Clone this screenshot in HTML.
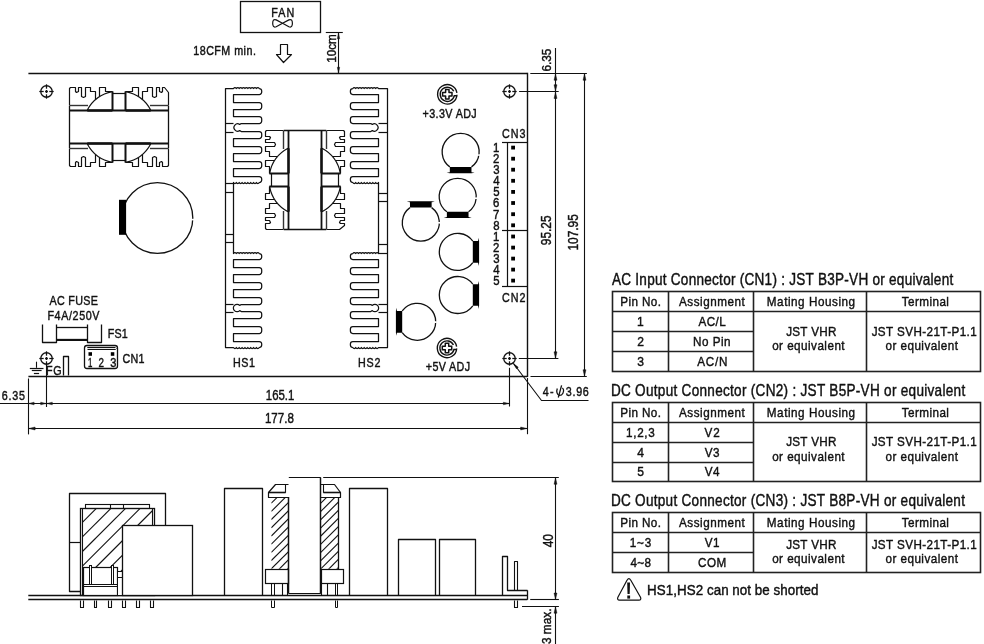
<!DOCTYPE html>
<html><head><meta charset="utf-8"><title>Power Supply Mechanical Drawing</title>
<style>
html,body{margin:0;padding:0;background:#fff;}
body{width:984px;height:644px;overflow:hidden;}
svg{display:block;filter:grayscale(1);}
text{font-family:"Liberation Sans",sans-serif;}
</style></head><body>
<svg width="984" height="644" viewBox="0 0 984 644">
<rect width="984" height="644" fill="#fff"/>
<path d="M225.5,88.5 L233.5,88.5 Q234.93,86.5 236.37,88.5 Q237.8,86.5 239.23,88.5 Q240.67,86.5 242.1,88.5 Q243.53,86.5 244.97,88.5 Q246.4,86.5 247.83,88.5 Q249.27,86.5 250.7,88.5 Q252.13,86.5 253.57,88.5 Q255,86.5 256.43,88.5 Q257.87,86.5 259.3,88.5 A2.4,2.4 0 0 1 261.7,90.9 L261.7,92.1 A2.4,2.4 0 0 1 259.3,94.5 L233.5,94.5 L233.5,102.5 L259.3,102.5 A2.4,2.4 0 0 1 261.7,104.9 L261.7,107.1 A2.4,2.4 0 0 1 259.3,109.5 L233.5,109.5 L233.5,116.5 L259.3,116.5 A2.4,2.4 0 0 1 261.7,118.9 L261.7,121.1 A2.4,2.4 0 0 1 259.3,123.5 L241.3,123.5 L239.7,124.4 A3.7,3.7 0 1 0 239.7,130.6 L241.3,131.5 L259.3,131.5 A2.4,2.4 0 0 1 261.7,133.9 L261.7,136.1 A2.4,2.4 0 0 1 259.3,138.5 L233.5,138.5 L233.5,146.5 L259.3,146.5 A2.4,2.4 0 0 1 261.7,148.9 L261.7,151.1 A2.4,2.4 0 0 1 259.3,153.5 L233.5,153.5 L233.5,161.5 L259.3,161.5 A2.4,2.4 0 0 1 261.7,163.9 L261.7,166.1 A2.4,2.4 0 0 1 259.3,168.5 L233.5,168.5 L233.5,176.5 L259.3,176.5 A2.4,2.4 0 0 1 261.7,178.9 L261.7,180.1 A2.4,2.4 0 0 1 259.3,182.5 Q257.87,184.5 256.43,182.5 Q255,184.5 253.57,182.5 Q252.13,184.5 250.7,182.5 Q249.27,184.5 247.83,182.5 Q246.4,184.5 244.97,182.5 Q243.53,184.5 242.1,182.5 Q240.67,184.5 239.23,182.5 Q237.8,184.5 236.37,182.5 Q234.93,184.5 233.5,182.5 L233.5,182.5 L233.5,253.5 L233.5,253.5 Q234.93,251.5 236.37,253.5 Q237.8,251.5 239.23,253.5 Q240.67,251.5 242.1,253.5 Q243.53,251.5 244.97,253.5 Q246.4,251.5 247.83,253.5 Q249.27,251.5 250.7,253.5 Q252.13,251.5 253.57,253.5 Q255,251.5 256.43,253.5 Q257.87,251.5 259.3,253.5 A2.4,2.4 0 0 1 261.7,255.9 L261.7,257.1 A2.4,2.4 0 0 1 259.3,259.5 L233.5,259.5 L233.5,267.5 L259.3,267.5 A2.4,2.4 0 0 1 261.7,269.9 L261.7,272.1 A2.4,2.4 0 0 1 259.3,274.5 L233.5,274.5 L233.5,282.5 L259.3,282.5 A2.4,2.4 0 0 1 261.7,284.9 L261.7,287.1 A2.4,2.4 0 0 1 259.3,289.5 L233.5,289.5 L233.5,297.5 L259.3,297.5 A2.4,2.4 0 0 1 261.7,299.9 L261.7,302.1 A2.4,2.4 0 0 1 259.3,304.5 L241.3,304.5 L239.7,305.4 A3.7,3.7 0 1 0 239.7,310.6 L241.3,311.5 L259.3,311.5 A2.4,2.4 0 0 1 261.7,313.9 L261.7,316.1 A2.4,2.4 0 0 1 259.3,318.5 L233.5,318.5 L233.5,326.5 L259.3,326.5 A2.4,2.4 0 0 1 261.7,328.9 L261.7,331.1 A2.4,2.4 0 0 1 259.3,333.5 L233.5,333.5 L233.5,341.5 L259.3,341.5 A2.4,2.4 0 0 1 261.7,343.9 L261.7,345.1 A2.4,2.4 0 0 1 259.3,347.5 Q257.87,349.5 256.43,347.5 Q255,349.5 253.57,347.5 Q252.13,349.5 250.7,347.5 Q249.27,349.5 247.83,347.5 Q246.4,349.5 244.97,347.5 Q243.53,349.5 242.1,347.5 Q240.67,349.5 239.23,347.5 Q237.8,349.5 236.37,347.5 Q234.93,349.5 233.5,347.5 L225.5,347.5 Z" fill="none" stroke="#111" stroke-width="1.25" stroke-linejoin="round" />
<line x1="225.5" y1="183.5" x2="233.5" y2="183.5" stroke="#111" stroke-width="1.2"/>
<line x1="225.5" y1="192.5" x2="233.5" y2="192.5" stroke="#111" stroke-width="1.2"/>
<line x1="225.5" y1="234.5" x2="233.5" y2="234.5" stroke="#111" stroke-width="1.2"/>
<line x1="225.5" y1="242.5" x2="233.5" y2="242.5" stroke="#111" stroke-width="1.2"/>
<line x1="225.5" y1="123.5" x2="233.5" y2="123.5" stroke="#111" stroke-width="1.2"/>
<line x1="225.5" y1="132.5" x2="233.5" y2="132.5" stroke="#111" stroke-width="1.2"/>
<line x1="225.5" y1="304.5" x2="233.5" y2="304.5" stroke="#111" stroke-width="1.2"/>
<line x1="225.5" y1="312.5" x2="233.5" y2="312.5" stroke="#111" stroke-width="1.2"/>
<path d="M387.5,88.5 L378.5,88.5 Q377.07,86.5 375.64,88.5 Q374.22,86.5 372.79,88.5 Q371.36,86.5 369.93,88.5 Q368.51,86.5 367.08,88.5 Q365.65,86.5 364.22,88.5 Q362.79,86.5 361.37,88.5 Q359.94,86.5 358.51,88.5 Q357.08,86.5 355.66,88.5 Q354.23,86.5 352.8,88.5 A2.4,2.4 0 0 0 350.4,90.9 L350.4,92.1 A2.4,2.4 0 0 0 352.8,94.5 L378.5,94.5 L378.5,102.5 L352.8,102.5 A2.4,2.4 0 0 0 350.4,104.9 L350.4,107.1 A2.4,2.4 0 0 0 352.8,109.5 L378.5,109.5 L378.5,116.5 L352.8,116.5 A2.4,2.4 0 0 0 350.4,118.9 L350.4,121.1 A2.4,2.4 0 0 0 352.8,123.5 L370.7,123.5 L372.3,124.4 A3.7,3.7 0 1 1 372.3,130.6 L370.7,131.5 L352.8,131.5 A2.4,2.4 0 0 0 350.4,133.9 L350.4,136.1 A2.4,2.4 0 0 0 352.8,138.5 L378.5,138.5 L378.5,146.5 L352.8,146.5 A2.4,2.4 0 0 0 350.4,148.9 L350.4,151.1 A2.4,2.4 0 0 0 352.8,153.5 L378.5,153.5 L378.5,161.5 L352.8,161.5 A2.4,2.4 0 0 0 350.4,163.9 L350.4,166.1 A2.4,2.4 0 0 0 352.8,168.5 L378.5,168.5 L378.5,176.5 L352.8,176.5 A2.4,2.4 0 0 0 350.4,178.9 L350.4,180.1 A2.4,2.4 0 0 0 352.8,182.5 Q354.23,184.5 355.66,182.5 Q357.08,184.5 358.51,182.5 Q359.94,184.5 361.37,182.5 Q362.79,184.5 364.22,182.5 Q365.65,184.5 367.08,182.5 Q368.51,184.5 369.93,182.5 Q371.36,184.5 372.79,182.5 Q374.22,184.5 375.64,182.5 Q377.07,184.5 378.5,182.5 L378.5,182.5 L378.5,253.5 L378.5,253.5 Q377.07,251.5 375.64,253.5 Q374.22,251.5 372.79,253.5 Q371.36,251.5 369.93,253.5 Q368.51,251.5 367.08,253.5 Q365.65,251.5 364.22,253.5 Q362.79,251.5 361.37,253.5 Q359.94,251.5 358.51,253.5 Q357.08,251.5 355.66,253.5 Q354.23,251.5 352.8,253.5 A2.4,2.4 0 0 0 350.4,255.9 L350.4,257.1 A2.4,2.4 0 0 0 352.8,259.5 L378.5,259.5 L378.5,267.5 L352.8,267.5 A2.4,2.4 0 0 0 350.4,269.9 L350.4,272.1 A2.4,2.4 0 0 0 352.8,274.5 L378.5,274.5 L378.5,282.5 L352.8,282.5 A2.4,2.4 0 0 0 350.4,284.9 L350.4,287.1 A2.4,2.4 0 0 0 352.8,289.5 L378.5,289.5 L378.5,297.5 L352.8,297.5 A2.4,2.4 0 0 0 350.4,299.9 L350.4,302.1 A2.4,2.4 0 0 0 352.8,304.5 L370.7,304.5 L372.3,305.4 A3.7,3.7 0 1 1 372.3,310.6 L370.7,311.5 L352.8,311.5 A2.4,2.4 0 0 0 350.4,313.9 L350.4,316.1 A2.4,2.4 0 0 0 352.8,318.5 L378.5,318.5 L378.5,326.5 L352.8,326.5 A2.4,2.4 0 0 0 350.4,328.9 L350.4,331.1 A2.4,2.4 0 0 0 352.8,333.5 L378.5,333.5 L378.5,341.5 L352.8,341.5 A2.4,2.4 0 0 0 350.4,343.9 L350.4,345.1 A2.4,2.4 0 0 0 352.8,347.5 Q354.23,349.5 355.66,347.5 Q357.08,349.5 358.51,347.5 Q359.94,349.5 361.37,347.5 Q362.79,349.5 364.22,347.5 Q365.65,349.5 367.08,347.5 Q368.51,349.5 369.93,347.5 Q371.36,349.5 372.79,347.5 Q374.22,349.5 375.64,347.5 Q377.07,349.5 378.5,347.5 L387.5,347.5 Z" fill="none" stroke="#111" stroke-width="1.25" stroke-linejoin="round" />
<line x1="387.5" y1="193.5" x2="378.5" y2="193.5" stroke="#111" stroke-width="1.2"/>
<line x1="387.5" y1="201.5" x2="378.5" y2="201.5" stroke="#111" stroke-width="1.2"/>
<line x1="387.5" y1="244.5" x2="378.5" y2="244.5" stroke="#111" stroke-width="1.2"/>
<line x1="387.5" y1="253.5" x2="378.5" y2="253.5" stroke="#111" stroke-width="1.2"/>
<line x1="387.5" y1="123.5" x2="378.5" y2="123.5" stroke="#111" stroke-width="1.2"/>
<line x1="387.5" y1="132.5" x2="378.5" y2="132.5" stroke="#111" stroke-width="1.2"/>
<line x1="387.5" y1="304.5" x2="378.5" y2="304.5" stroke="#111" stroke-width="1.2"/>
<line x1="387.5" y1="312.5" x2="378.5" y2="312.5" stroke="#111" stroke-width="1.2"/>
<g transform="translate(119,127)">
<g transform="scale(1,1)">
<path d="M-49.5,-21.5 L-49.5,-38.5 L-48.5,-39.5 L-44.5,-39.5 L-43.5,-39.5 L-43.5,-35.5 L-42.5,-34.5 L-40.5,-35.5 L-40.5,-39.5 L-37.5,-39.5 L-37.5,-39.5 L-37.5,-30.5 L-35.5,-29.5 L-33.5,-30.5 L-33.5,-39.5 L-28.5,-39.5 L-28.5,-35.5 L-23.5,-35.5 L-23.5,-27.5" fill="none" stroke="#111" stroke-width="1.2" stroke-linejoin="round"/>
<path d="M-19.5,-30.5 L-19.5,-39.5 L-13.5,-39.5 L-13.5,-35.5 L-6.5,-35.5" fill="none" stroke="#111" stroke-width="1.2" stroke-linejoin="round"/>
<path d="M-31.7,-17 A36,36 0 0 1 -6.6,-35.39" fill="none" stroke="#111" stroke-width="1.2" stroke-linejoin="round" />
<line x1="-6.5" y1="-35.6" x2="-6.5" y2="-17" stroke="#111" stroke-width="2.0"/>
<line x1="-6.6" y1="-33.5" x2="0" y2="-33.5" stroke="#111" stroke-width="1.2"/>
<line x1="-49.4" y1="-21.5" x2="-31" y2="-21.5" stroke="#333" stroke-width="1.4"/>
<line x1="-49.4" y1="-16.5" x2="0" y2="-16.5" stroke="#111" stroke-width="1.8"/>
<line x1="-31.7" y1="-16.5" x2="-6.6" y2="-16.5" stroke="#111" stroke-width="2.4"/>
</g>
<g transform="scale(-1,1)">
<path d="M-49.5,-21.5 L-49.5,-34.5 L-45.5,-39.5 L-43.5,-39.5 L-43.5,-35.5 L-42.5,-34.5 L-40.5,-35.5 L-40.5,-39.5 L-37.5,-39.5 L-37.5,-39.5 L-37.5,-30.5 L-35.5,-29.5 L-33.5,-30.5 L-33.5,-39.5 L-28.5,-39.5 L-28.5,-35.5 L-23.5,-35.5 L-23.5,-27.5" fill="none" stroke="#111" stroke-width="1.2" stroke-linejoin="round"/>
<path d="M-19.5,-30.5 L-19.5,-39.5 L-13.5,-39.5 L-13.5,-35.5 L-6.5,-35.5" fill="none" stroke="#111" stroke-width="1.2" stroke-linejoin="round"/>
<path d="M-31.7,-17 A36,36 0 0 1 -6.6,-35.39" fill="none" stroke="#111" stroke-width="1.2" stroke-linejoin="round" />
<line x1="-6.5" y1="-35.6" x2="-6.5" y2="-17" stroke="#111" stroke-width="2.0"/>
<line x1="-6.6" y1="-33.5" x2="0" y2="-33.5" stroke="#111" stroke-width="1.2"/>
<line x1="-49.4" y1="-21.5" x2="-31" y2="-21.5" stroke="#333" stroke-width="1.4"/>
<line x1="-49.4" y1="-16.5" x2="0" y2="-16.5" stroke="#111" stroke-width="1.8"/>
<line x1="-31.7" y1="-16.5" x2="-6.6" y2="-16.5" stroke="#111" stroke-width="2.4"/>
</g>
<g transform="scale(1,-1)">
<path d="M-49.5,-21.5 L-49.5,-38.5 L-48.5,-39.5 L-44.5,-39.5 L-43.5,-39.5 L-43.5,-35.5 L-42.5,-34.5 L-40.5,-35.5 L-40.5,-39.5 L-37.5,-39.5 L-37.5,-39.5 L-37.5,-30.5 L-35.5,-29.5 L-33.5,-30.5 L-33.5,-39.5 L-28.5,-39.5 L-28.5,-35.5 L-23.5,-35.5 L-23.5,-27.5" fill="none" stroke="#111" stroke-width="1.2" stroke-linejoin="round"/>
<path d="M-19.5,-30.5 L-19.5,-39.5 L-13.5,-39.5 L-13.5,-35.5 L-6.5,-35.5" fill="none" stroke="#111" stroke-width="1.2" stroke-linejoin="round"/>
<path d="M-31.7,-17 A36,36 0 0 1 -6.6,-35.39" fill="none" stroke="#111" stroke-width="1.2" stroke-linejoin="round" />
<line x1="-6.5" y1="-35.6" x2="-6.5" y2="-17" stroke="#111" stroke-width="2.0"/>
<line x1="-6.6" y1="-33.5" x2="0" y2="-33.5" stroke="#111" stroke-width="1.2"/>
<line x1="-49.4" y1="-21.5" x2="-31" y2="-21.5" stroke="#333" stroke-width="1.4"/>
<line x1="-49.4" y1="-16.5" x2="0" y2="-16.5" stroke="#111" stroke-width="1.8"/>
<line x1="-31.7" y1="-16.5" x2="-6.6" y2="-16.5" stroke="#111" stroke-width="2.4"/>
</g>
<g transform="scale(-1,-1)">
<path d="M-49.5,-21.5 L-49.5,-38.5 L-48.5,-39.5 L-44.5,-39.5 L-43.5,-39.5 L-43.5,-35.5 L-42.5,-34.5 L-40.5,-35.5 L-40.5,-39.5 L-37.5,-39.5 L-37.5,-39.5 L-37.5,-30.5 L-35.5,-29.5 L-33.5,-30.5 L-33.5,-39.5 L-28.5,-39.5 L-28.5,-35.5 L-23.5,-35.5 L-23.5,-27.5" fill="none" stroke="#111" stroke-width="1.2" stroke-linejoin="round"/>
<path d="M-19.5,-30.5 L-19.5,-39.5 L-13.5,-39.5 L-13.5,-35.5 L-6.5,-35.5" fill="none" stroke="#111" stroke-width="1.2" stroke-linejoin="round"/>
<path d="M-31.7,-17 A36,36 0 0 1 -6.6,-35.39" fill="none" stroke="#111" stroke-width="1.2" stroke-linejoin="round" />
<line x1="-6.5" y1="-35.6" x2="-6.5" y2="-17" stroke="#111" stroke-width="2.0"/>
<line x1="-6.6" y1="-33.5" x2="0" y2="-33.5" stroke="#111" stroke-width="1.2"/>
<line x1="-49.4" y1="-21.5" x2="-31" y2="-21.5" stroke="#333" stroke-width="1.4"/>
<line x1="-49.4" y1="-16.5" x2="0" y2="-16.5" stroke="#111" stroke-width="1.8"/>
<line x1="-31.7" y1="-16.5" x2="-6.6" y2="-16.5" stroke="#111" stroke-width="2.4"/>
</g>
<line x1="-49.5" y1="-21.2" x2="-49.5" y2="21.2" stroke="#111" stroke-width="1.3"/>
<line x1="49.5" y1="-21.2" x2="49.5" y2="21.2" stroke="#111" stroke-width="1.3"/>
</g>
<g transform="translate(305,180) rotate(90)">
<g transform="scale(1,1)">
<path d="M-49.5,-21.5 L-49.5,-38.5 L-48.5,-39.5 L-44.5,-39.5 L-43.5,-39.5 L-43.5,-35.5 L-42.5,-34.5 L-40.5,-35.5 L-40.5,-39.5 L-37.5,-39.5 L-37.5,-39.5 L-37.5,-30.5 L-35.5,-29.5 L-33.5,-30.5 L-33.5,-39.5 L-28.5,-39.5 L-28.5,-35.5 L-23.5,-35.5 L-23.5,-27.5" fill="none" stroke="#111" stroke-width="1.2" stroke-linejoin="round"/>
<path d="M-19.5,-30.5 L-19.5,-39.5 L-13.5,-39.5 L-13.5,-35.5 L-6.5,-35.5" fill="none" stroke="#111" stroke-width="1.2" stroke-linejoin="round"/>
<path d="M-31.7,-17 A36,36 0 0 1 -6.6,-35.39" fill="none" stroke="#111" stroke-width="1.2" stroke-linejoin="round" />
<line x1="-6.5" y1="-35.6" x2="-6.5" y2="-17" stroke="#111" stroke-width="2.0"/>
<line x1="-6.6" y1="-33.5" x2="0" y2="-33.5" stroke="#111" stroke-width="1.2"/>
<line x1="-49.4" y1="-21.5" x2="-31" y2="-21.5" stroke="#333" stroke-width="1.4"/>
<line x1="-49.4" y1="-16.5" x2="0" y2="-16.5" stroke="#111" stroke-width="1.8"/>
<line x1="-31.7" y1="-16.5" x2="-6.6" y2="-16.5" stroke="#111" stroke-width="2.4"/>
</g>
<g transform="scale(-1,1)">
<path d="M-49.5,-21.5 L-49.5,-34.5 L-45.5,-39.5 L-43.5,-39.5 L-43.5,-35.5 L-42.5,-34.5 L-40.5,-35.5 L-40.5,-39.5 L-37.5,-39.5 L-37.5,-39.5 L-37.5,-30.5 L-35.5,-29.5 L-33.5,-30.5 L-33.5,-39.5 L-28.5,-39.5 L-28.5,-35.5 L-23.5,-35.5 L-23.5,-27.5" fill="none" stroke="#111" stroke-width="1.2" stroke-linejoin="round"/>
<path d="M-19.5,-30.5 L-19.5,-39.5 L-13.5,-39.5 L-13.5,-35.5 L-6.5,-35.5" fill="none" stroke="#111" stroke-width="1.2" stroke-linejoin="round"/>
<path d="M-31.7,-17 A36,36 0 0 1 -6.6,-35.39" fill="none" stroke="#111" stroke-width="1.2" stroke-linejoin="round" />
<line x1="-6.5" y1="-35.6" x2="-6.5" y2="-17" stroke="#111" stroke-width="2.0"/>
<line x1="-6.6" y1="-33.5" x2="0" y2="-33.5" stroke="#111" stroke-width="1.2"/>
<line x1="-49.4" y1="-21.5" x2="-31" y2="-21.5" stroke="#333" stroke-width="1.4"/>
<line x1="-49.4" y1="-16.5" x2="0" y2="-16.5" stroke="#111" stroke-width="1.8"/>
<line x1="-31.7" y1="-16.5" x2="-6.6" y2="-16.5" stroke="#111" stroke-width="2.4"/>
</g>
<g transform="scale(1,-1)">
<path d="M-49.5,-21.5 L-49.5,-38.5 L-48.5,-39.5 L-44.5,-39.5 L-43.5,-39.5 L-43.5,-35.5 L-42.5,-34.5 L-40.5,-35.5 L-40.5,-39.5 L-37.5,-39.5 L-37.5,-39.5 L-37.5,-30.5 L-35.5,-29.5 L-33.5,-30.5 L-33.5,-39.5 L-28.5,-39.5 L-28.5,-35.5 L-23.5,-35.5 L-23.5,-27.5" fill="none" stroke="#111" stroke-width="1.2" stroke-linejoin="round"/>
<path d="M-19.5,-30.5 L-19.5,-39.5 L-13.5,-39.5 L-13.5,-35.5 L-6.5,-35.5" fill="none" stroke="#111" stroke-width="1.2" stroke-linejoin="round"/>
<path d="M-31.7,-17 A36,36 0 0 1 -6.6,-35.39" fill="none" stroke="#111" stroke-width="1.2" stroke-linejoin="round" />
<line x1="-6.5" y1="-35.6" x2="-6.5" y2="-17" stroke="#111" stroke-width="2.0"/>
<line x1="-6.6" y1="-33.5" x2="0" y2="-33.5" stroke="#111" stroke-width="1.2"/>
<line x1="-49.4" y1="-21.5" x2="-31" y2="-21.5" stroke="#333" stroke-width="1.4"/>
<line x1="-49.4" y1="-16.5" x2="0" y2="-16.5" stroke="#111" stroke-width="1.8"/>
<line x1="-31.7" y1="-16.5" x2="-6.6" y2="-16.5" stroke="#111" stroke-width="2.4"/>
</g>
<g transform="scale(-1,-1)">
<path d="M-49.5,-21.5 L-49.5,-38.5 L-48.5,-39.5 L-44.5,-39.5 L-43.5,-39.5 L-43.5,-35.5 L-42.5,-34.5 L-40.5,-35.5 L-40.5,-39.5 L-37.5,-39.5 L-37.5,-39.5 L-37.5,-30.5 L-35.5,-29.5 L-33.5,-30.5 L-33.5,-39.5 L-28.5,-39.5 L-28.5,-35.5 L-23.5,-35.5 L-23.5,-27.5" fill="none" stroke="#111" stroke-width="1.2" stroke-linejoin="round"/>
<path d="M-19.5,-30.5 L-19.5,-39.5 L-13.5,-39.5 L-13.5,-35.5 L-6.5,-35.5" fill="none" stroke="#111" stroke-width="1.2" stroke-linejoin="round"/>
<path d="M-31.7,-17 A36,36 0 0 1 -6.6,-35.39" fill="none" stroke="#111" stroke-width="1.2" stroke-linejoin="round" />
<line x1="-6.5" y1="-35.6" x2="-6.5" y2="-17" stroke="#111" stroke-width="2.0"/>
<line x1="-6.6" y1="-33.5" x2="0" y2="-33.5" stroke="#111" stroke-width="1.2"/>
<line x1="-49.4" y1="-21.5" x2="-31" y2="-21.5" stroke="#333" stroke-width="1.4"/>
<line x1="-49.4" y1="-16.5" x2="0" y2="-16.5" stroke="#111" stroke-width="1.8"/>
<line x1="-31.7" y1="-16.5" x2="-6.6" y2="-16.5" stroke="#111" stroke-width="2.4"/>
</g>
<line x1="-49.5" y1="-21.2" x2="-49.5" y2="21.2" stroke="#111" stroke-width="1.3"/>
<line x1="49.5" y1="-21.2" x2="49.5" y2="21.2" stroke="#111" stroke-width="1.3"/>
</g>
<rect x="240.5" y="1.5" width="80" height="31" rx="0" fill="none" stroke="#111" stroke-width="1.3"/>
<text transform="translate(271.34,16.8) scale(0.86,1)" x="0" y="0" font-size="12.5" letter-spacing="1.117" fill="#111" stroke="#111" stroke-width="0.42">FAN</text>
<path d="M282.55,23.3 L276.2,19.9 C273.6,18.7 272.7,20.6 272.7,23.3 C272.7,26.0 273.6,27.9 276.2,26.7 Z M282.55,23.3 L288.9,19.9 C291.5,18.7 292.4,20.6 292.4,23.3 C292.4,26.0 291.5,27.9 288.9,26.7 Z" fill="none" stroke="#111" stroke-width="1.2" stroke-linejoin="round" />
<text transform="translate(193.28,55.3) scale(0.86,1)" x="0" y="0" font-size="12.5" letter-spacing="0.535" fill="#111" stroke="#111" stroke-width="0.42">18CFM min.</text>
<path d="M280.5,44.5 L287.5,44.5 L287.5,54.5 L291.5,54.5 L283.5,62.5 L276.5,54.5 L280.5,54.5 Z" fill="none" stroke="#111" stroke-width="1.2" stroke-linejoin="round"/>
<line x1="325.8" y1="32.5" x2="342.8" y2="32.5" stroke="#111" stroke-width="1.1"/>
<line x1="338.5" y1="32.5" x2="338.5" y2="73.5" stroke="#111" stroke-width="1.1"/>
<path d="M338.5,32.8 L337.3,38.8 L339.7,38.8 Z" fill="#111" stroke="#111" stroke-width="0.4" stroke-linejoin="round"/>
<path d="M338.5,73.2 L337.3,67.2 L339.7,67.2 Z" fill="#111" stroke="#111" stroke-width="0.4" stroke-linejoin="round"/>
<g transform="translate(335.5,61.8) rotate(-90)"><text x="-0.88" y="0" font-size="12.5" textLength="28.44" lengthAdjust="spacingAndGlyphs" fill="#111" stroke="#111" stroke-width="0.42">10cm</text></g>
<line x1="28.4" y1="73.5" x2="527.3" y2="73.5" stroke="#111" stroke-width="1.4"/>
<line x1="527.5" y1="72.8" x2="527.5" y2="376.9" stroke="#111" stroke-width="1.4"/>
<line x1="28.4" y1="376.5" x2="527.3" y2="376.5" stroke="#111" stroke-width="1.4"/>
<line x1="530.3" y1="73.5" x2="586.9" y2="73.5" stroke="#111" stroke-width="1.1"/>
<line x1="519.1" y1="91.5" x2="558.7" y2="91.5" stroke="#111" stroke-width="1.1"/>
<line x1="555.5" y1="48.1" x2="555.5" y2="358.6" stroke="#111" stroke-width="1.1"/>
<path d="M555.5,73.8 L554,80.3 L557,80.3 Z" fill="#111" stroke="#111" stroke-width="0.4" stroke-linejoin="round"/>
<path d="M555.5,91.2 L554,84.7 L557,84.7 Z" fill="#111" stroke="#111" stroke-width="0.4" stroke-linejoin="round"/>
<path d="M555.5,92 L554,98.5 L557,98.5 Z" fill="#111" stroke="#111" stroke-width="0.4" stroke-linejoin="round"/>
<path d="M555.5,358.3 L554,351.8 L557,351.8 Z" fill="#111" stroke="#111" stroke-width="0.4" stroke-linejoin="round"/>
<g transform="translate(551.3,71) rotate(-90)"><text x="-0.61" y="0" font-size="12.5" textLength="22.96" lengthAdjust="spacingAndGlyphs" fill="#111" stroke="#111" stroke-width="0.42">6.35</text></g>
<line x1="584.5" y1="73.5" x2="584.5" y2="376.5" stroke="#111" stroke-width="1.1"/>
<path d="M584.5,73.8 L583,80.3 L586,80.3 Z" fill="#111" stroke="#111" stroke-width="0.4" stroke-linejoin="round"/>
<path d="M584.5,376.2 L583,369.7 L586,369.7 Z" fill="#111" stroke="#111" stroke-width="0.4" stroke-linejoin="round"/>
<g transform="translate(550.75,244.6) rotate(-90)"><text x="-0.55" y="0" font-size="14" textLength="29.75" lengthAdjust="spacingAndGlyphs" fill="#111" stroke="#111" stroke-width="0.42">95.25</text></g>
<g transform="translate(578.3,249.6) rotate(-90)"><text x="-0.89" y="0" font-size="14" textLength="36.27" lengthAdjust="spacingAndGlyphs" fill="#111" stroke="#111" stroke-width="0.42">107.95</text></g>
<line x1="518.8" y1="358.5" x2="558.4" y2="358.5" stroke="#111" stroke-width="1.1"/>
<line x1="530.5" y1="376.5" x2="586.8" y2="376.5" stroke="#111" stroke-width="1.1"/>
<circle cx="46.5" cy="91.5" r="5.75" fill="none" stroke="#111" stroke-width="1.3"/>
<line x1="39.3" y1="91.5" x2="43.7" y2="91.5" stroke="#111" stroke-width="1.25"/>
<line x1="46.5" y1="84.3" x2="46.5" y2="88.7" stroke="#111" stroke-width="1.25"/>
<line x1="49.3" y1="91.5" x2="53.7" y2="91.5" stroke="#111" stroke-width="1.25"/>
<line x1="46.5" y1="94.3" x2="46.5" y2="98.7" stroke="#111" stroke-width="1.25"/>
<path d="M45.1,91.5 L47.9,91.5 M46.5,90.1 L46.5,92.9" stroke="#111" stroke-width="1.3"/>
<circle cx="46.5" cy="91.5" r="0.8" fill="#111"/>
<circle cx="509.5" cy="91.5" r="5.75" fill="none" stroke="#111" stroke-width="1.3"/>
<line x1="502.3" y1="91.5" x2="506.7" y2="91.5" stroke="#111" stroke-width="1.25"/>
<line x1="509.5" y1="84.3" x2="509.5" y2="88.7" stroke="#111" stroke-width="1.25"/>
<line x1="512.3" y1="91.5" x2="516.7" y2="91.5" stroke="#111" stroke-width="1.25"/>
<line x1="509.5" y1="94.3" x2="509.5" y2="98.7" stroke="#111" stroke-width="1.25"/>
<path d="M508.1,91.5 L510.9,91.5 M509.5,90.1 L509.5,92.9" stroke="#111" stroke-width="1.3"/>
<circle cx="509.5" cy="91.5" r="0.8" fill="#111"/>
<circle cx="46.5" cy="358.5" r="5.75" fill="none" stroke="#111" stroke-width="1.3"/>
<line x1="39.3" y1="358.5" x2="43.7" y2="358.5" stroke="#111" stroke-width="1.25"/>
<line x1="46.5" y1="351.3" x2="46.5" y2="355.7" stroke="#111" stroke-width="1.25"/>
<line x1="49.3" y1="358.5" x2="53.7" y2="358.5" stroke="#111" stroke-width="1.25"/>
<line x1="46.5" y1="361.3" x2="46.5" y2="365.7" stroke="#111" stroke-width="1.25"/>
<path d="M45.1,358.5 L47.9,358.5 M46.5,357.1 L46.5,359.9" stroke="#111" stroke-width="1.3"/>
<circle cx="46.5" cy="358.5" r="0.8" fill="#111"/>
<circle cx="509.5" cy="358.5" r="5.75" fill="none" stroke="#111" stroke-width="1.3"/>
<line x1="502.3" y1="358.5" x2="506.7" y2="358.5" stroke="#111" stroke-width="1.25"/>
<line x1="509.5" y1="351.3" x2="509.5" y2="355.7" stroke="#111" stroke-width="1.25"/>
<line x1="512.3" y1="358.5" x2="516.7" y2="358.5" stroke="#111" stroke-width="1.25"/>
<line x1="509.5" y1="361.3" x2="509.5" y2="365.7" stroke="#111" stroke-width="1.25"/>
<path d="M508.1,358.5 L510.9,358.5 M509.5,357.1 L509.5,359.9" stroke="#111" stroke-width="1.3"/>
<circle cx="509.5" cy="358.5" r="0.8" fill="#111"/>
<circle cx="157.4" cy="218" r="35.4" fill="none" stroke="#111" stroke-width="1.3"/>
<rect x="119" y="199.8" width="7.1" height="35" fill="#000"/>
<rect x="191.5" y="218.8" width="3" height="1.6" fill="#fff"/>
<path d="M456.99,94.81 A9.7,9.7 0 1 1 456.91,92.95" fill="none" stroke="#111" stroke-width="1.4"/>
<path d="M453.73,91.3 A7.1,7.1 0 1 0 454.24,95.78 L456.88,95.82" fill="none" stroke="#111" stroke-width="1.4"/>
<path d="M445.6,89.6 L449,89.6 L449,92.6 L452,92.6 L452,96 L449,96 L449,99 L445.6,99 L445.6,96 L442.6,96 L442.6,92.6 L445.6,92.6 Z" fill="none" stroke="#111" stroke-width="1.5" stroke-linejoin="round"/>
<path d="M456.69,348.51 A9.7,9.7 0 1 1 456.61,346.65" fill="none" stroke="#111" stroke-width="1.4"/>
<path d="M453.43,345 A7.1,7.1 0 1 0 453.94,349.48 L456.58,349.52" fill="none" stroke="#111" stroke-width="1.4"/>
<path d="M445.3,343.3 L448.7,343.3 L448.7,346.3 L451.7,346.3 L451.7,349.7 L448.7,349.7 L448.7,352.7 L445.3,352.7 L445.3,349.7 L442.3,349.7 L442.3,346.3 L445.3,346.3 Z" fill="none" stroke="#111" stroke-width="1.5" stroke-linejoin="round"/>
<text transform="translate(422.58,117.8) scale(0.86,1)" x="0" y="0" font-size="12.5" letter-spacing="0.451" fill="#111" stroke="#111" stroke-width="0.42">+3.3V ADJ</text>
<text transform="translate(425.78,371) scale(0.86,1)" x="0" y="0" font-size="12.5" letter-spacing="0.417" fill="#111" stroke="#111" stroke-width="0.42">+5V ADJ</text>
<g transform="translate(460.65,151.9) rotate(90)">
<path d="M15,10.83 A18.5,18.5 0 1 1 15,-10.83" fill="none" stroke="#111" stroke-width="1.3"/>
<path d="M15,-10.83 L15,10.83 L20.3,10.83 L20.8,14.03 L21.3,10.83 L21.3,-10.83 L20.8,-14.03 L20.3,-10.83 Z" fill="#000"/>
</g>
<g transform="translate(457.7,196.8) rotate(90)">
<path d="M15,10.83 A18.5,18.5 0 1 1 15,-10.83" fill="none" stroke="#111" stroke-width="1.3"/>
<path d="M15,-10.83 L15,10.83 L20.3,10.83 L20.8,14.03 L21.3,10.83 L21.3,-10.83 L20.8,-14.03 L20.3,-10.83 Z" fill="#000"/>
</g>
<g transform="translate(420.8,222.6) rotate(-90)">
<path d="M15,10.83 A18.5,18.5 0 1 1 15,-10.83" fill="none" stroke="#111" stroke-width="1.3"/>
<path d="M15,-10.83 L15,10.83 L20.3,10.83 L20.8,14.03 L21.3,10.83 L21.3,-10.83 L20.8,-14.03 L20.3,-10.83 Z" fill="#000"/>
</g>
<g transform="translate(457.8,251.9) rotate(0)">
<path d="M15,10.83 A18.5,18.5 0 1 1 15,-10.83" fill="none" stroke="#111" stroke-width="1.3"/>
<path d="M15,-10.83 L15,10.83 L20.3,10.83 L20.8,14.03 L21.3,10.83 L21.3,-10.83 L20.8,-14.03 L20.3,-10.83 Z" fill="#000"/>
</g>
<g transform="translate(457.8,295) rotate(0)">
<path d="M15,10.83 A18.5,18.5 0 1 1 15,-10.83" fill="none" stroke="#111" stroke-width="1.3"/>
<path d="M15,-10.83 L15,10.83 L20.3,10.83 L20.8,14.03 L21.3,10.83 L21.3,-10.83 L20.8,-14.03 L20.3,-10.83 Z" fill="#000"/>
</g>
<g transform="translate(417.2,321.8) rotate(180)">
<path d="M15,10.83 A18.5,18.5 0 1 1 15,-10.83" fill="none" stroke="#111" stroke-width="1.3"/>
<path d="M15,-10.83 L15,10.83 L20.3,10.83 L20.8,14.03 L21.3,10.83 L21.3,-10.83 L20.8,-14.03 L20.3,-10.83 Z" fill="#000"/>
</g>
<rect x="477.9" y="154.3" width="2.6" height="1.5" fill="#fff"/>
<rect x="474.6" y="197.4" width="2.6" height="1.6" fill="#fff"/>
<rect x="434.2" y="321.2" width="2.6" height="1.8" fill="#fff"/>
<rect x="437.9" y="222.0" width="2.6" height="1.6" fill="#fff"/>
<line x1="502" y1="142.5" x2="527.3" y2="142.5" stroke="#111" stroke-width="1.2"/>
<line x1="507.5" y1="142.4" x2="507.5" y2="286.5" stroke="#111" stroke-width="1.2"/>
<line x1="502" y1="230.5" x2="527.3" y2="230.5" stroke="#111" stroke-width="1.2"/>
<line x1="502" y1="286.5" x2="527.3" y2="286.5" stroke="#111" stroke-width="1.2"/>
<rect x="511.2" y="145.7" width="3.8" height="3.8" fill="#000"/>
<rect x="511.2" y="156.8" width="3.8" height="3.8" fill="#000"/>
<rect x="511.2" y="167.8" width="3.8" height="3.8" fill="#000"/>
<rect x="511.2" y="178.9" width="3.8" height="3.8" fill="#000"/>
<rect x="511.2" y="190" width="3.8" height="3.8" fill="#000"/>
<rect x="511.2" y="201.1" width="3.8" height="3.8" fill="#000"/>
<rect x="511.2" y="212.3" width="3.8" height="3.8" fill="#000"/>
<rect x="511.2" y="223.4" width="3.8" height="3.8" fill="#000"/>
<rect x="511.2" y="234.6" width="3.8" height="3.8" fill="#000"/>
<rect x="511.2" y="245.7" width="3.8" height="3.8" fill="#000"/>
<rect x="511.2" y="256.7" width="3.8" height="3.8" fill="#000"/>
<rect x="511.2" y="267.7" width="3.8" height="3.8" fill="#000"/>
<rect x="511.2" y="278.7" width="3.8" height="3.8" fill="#000"/>
<text x="492.97" y="151.9" font-size="12" textLength="6.34" lengthAdjust="spacingAndGlyphs" fill="#111" stroke="#111" stroke-width="0.42">1</text>
<text x="493.12" y="163" font-size="12" textLength="6.34" lengthAdjust="spacingAndGlyphs" fill="#111" stroke="#111" stroke-width="0.42">2</text>
<text x="493.17" y="174" font-size="12" textLength="6.34" lengthAdjust="spacingAndGlyphs" fill="#111" stroke="#111" stroke-width="0.42">3</text>
<text x="493.17" y="185.1" font-size="12" textLength="6.34" lengthAdjust="spacingAndGlyphs" fill="#111" stroke="#111" stroke-width="0.42">4</text>
<text x="493.14" y="196.2" font-size="12" textLength="6.34" lengthAdjust="spacingAndGlyphs" fill="#111" stroke="#111" stroke-width="0.42">5</text>
<text x="493.09" y="207.3" font-size="12" textLength="6.34" lengthAdjust="spacingAndGlyphs" fill="#111" stroke="#111" stroke-width="0.42">6</text>
<text x="493.12" y="218.5" font-size="12" textLength="6.34" lengthAdjust="spacingAndGlyphs" fill="#111" stroke="#111" stroke-width="0.42">7</text>
<text x="493.14" y="229.6" font-size="12" textLength="6.34" lengthAdjust="spacingAndGlyphs" fill="#111" stroke="#111" stroke-width="0.42">8</text>
<text x="492.97" y="240.8" font-size="12" textLength="6.34" lengthAdjust="spacingAndGlyphs" fill="#111" stroke="#111" stroke-width="0.42">1</text>
<text x="493.12" y="251.9" font-size="12" textLength="6.34" lengthAdjust="spacingAndGlyphs" fill="#111" stroke="#111" stroke-width="0.42">2</text>
<text x="493.17" y="262.9" font-size="12" textLength="6.34" lengthAdjust="spacingAndGlyphs" fill="#111" stroke="#111" stroke-width="0.42">3</text>
<text x="493.17" y="273.9" font-size="12" textLength="6.34" lengthAdjust="spacingAndGlyphs" fill="#111" stroke="#111" stroke-width="0.42">4</text>
<text x="493.14" y="284.9" font-size="12" textLength="6.34" lengthAdjust="spacingAndGlyphs" fill="#111" stroke="#111" stroke-width="0.42">5</text>
<text transform="translate(502.04,137.5) scale(0.86,1)" x="0" y="0" font-size="12.5" letter-spacing="1.123" fill="#111" stroke="#111" stroke-width="0.42">CN3</text>
<text transform="translate(502.04,301.8) scale(0.86,1)" x="0" y="0" font-size="12.5" letter-spacing="1.148" fill="#111" stroke="#111" stroke-width="0.42">CN2</text>
<text transform="translate(232.94,367.2) scale(0.86,1)" x="0" y="0" font-size="12.5" letter-spacing="0.685" fill="#111" stroke="#111" stroke-width="0.42">HS1</text>
<text transform="translate(357.94,367.2) scale(0.86,1)" x="0" y="0" font-size="12.5" letter-spacing="0.976" fill="#111" stroke="#111" stroke-width="0.42">HS2</text>
<text transform="translate(49.46,305) scale(0.86,1)" x="0" y="0" font-size="12.5" letter-spacing="0.369" fill="#111" stroke="#111" stroke-width="0.42">AC FUSE</text>
<text transform="translate(47.44,319.5) scale(0.86,1)" x="0" y="0" font-size="12.5" letter-spacing="0.712" fill="#111" stroke="#111" stroke-width="0.42">F4A/250V</text>
<path d="M42.5,324.5 L42.5,342.5 L56.5,342.5 L56.5,324.5" fill="none" stroke="#111" stroke-width="1.3" stroke-linejoin="round"/>
<path d="M87.5,324.5 L87.5,342.5 L101.5,342.5 L101.5,324.5" fill="none" stroke="#111" stroke-width="1.3" stroke-linejoin="round"/>
<line x1="56.4" y1="327.5" x2="87.5" y2="327.5" stroke="#111" stroke-width="1.3"/>
<line x1="56.4" y1="339.5" x2="87.5" y2="339.5" stroke="#111" stroke-width="1.3"/>
<line x1="56.4" y1="340.5" x2="87.5" y2="340.5" stroke="#111" stroke-width="1.0"/>
<text transform="translate(107.74,338.3) scale(0.86,1)" x="0" y="0" font-size="12.5" letter-spacing="0.222" fill="#111" stroke="#111" stroke-width="0.42">FS1</text>
<rect x="84.5" y="345.5" width="33" height="23" rx="2.5" fill="none" stroke="#111" stroke-width="1.3"/>
<line x1="87.3" y1="347.5" x2="115.5" y2="347.5" stroke="#111" stroke-width="1.2"/>
<path d="M87.5,349.5 L115.5,349.5 L116.5,348.5" fill="none" stroke="#111" stroke-width="1.0" stroke-linejoin="round"/>
<rect x="88.5" y="352.2" width="3.5" height="3.6" fill="#000"/>
<rect x="110.8" y="352.2" width="3.5" height="3.6" fill="#000"/>
<text x="88" y="366.7" font-size="12.5" textLength="4.38" lengthAdjust="spacingAndGlyphs" fill="#111" stroke="#111" stroke-width="0.42">1</text>
<text x="98.43" y="366.7" font-size="12.5" textLength="5.44" lengthAdjust="spacingAndGlyphs" fill="#111" stroke="#111" stroke-width="0.42">2</text>
<text x="110.36" y="366.7" font-size="12.5" textLength="6.13" lengthAdjust="spacingAndGlyphs" fill="#111" stroke="#111" stroke-width="0.42">3</text>
<text transform="translate(122.54,363.3) scale(0.86,1)" x="0" y="0" font-size="12.5" letter-spacing="0.334" fill="#111" stroke="#111" stroke-width="0.42">CN1</text>
<line x1="36.5" y1="361.7" x2="36.5" y2="367.8" stroke="#111" stroke-width="1.1"/>
<line x1="29.8" y1="368.5" x2="43.5" y2="368.5" stroke="#111" stroke-width="1.2"/>
<line x1="31.8" y1="370.5" x2="41.6" y2="370.5" stroke="#111" stroke-width="1.2"/>
<line x1="33.9" y1="373.5" x2="39.1" y2="373.5" stroke="#111" stroke-width="1.2"/>
<text transform="translate(45.94,375.4) scale(0.86,1)" x="0" y="0" font-size="12.5" letter-spacing="0.945" fill="#111" stroke="#111" stroke-width="0.42">FG</text>
<path d="M63.5,375.5 L63.5,356.5 L68.5,356.5 L68.5,375.5" fill="none" stroke="#111" stroke-width="1.3" stroke-linejoin="round"/>
<line x1="28.5" y1="378.5" x2="28.5" y2="434.4" stroke="#111" stroke-width="1.1"/>
<line x1="46.5" y1="364.5" x2="46.5" y2="407" stroke="#111" stroke-width="1.1"/>
<line x1="509.5" y1="367.8" x2="509.5" y2="406.5" stroke="#111" stroke-width="1.1"/>
<line x1="527.5" y1="378" x2="527.5" y2="434.2" stroke="#111" stroke-width="1.1"/>
<line x1="0" y1="403.5" x2="509.5" y2="403.5" stroke="#111" stroke-width="1.1"/>
<path d="M28.6,403.5 L34.1,402.15 L34.1,404.85 Z" fill="#111" stroke="#111" stroke-width="0.4" stroke-linejoin="round"/>
<path d="M46.2,403.5 L40.7,402.15 L40.7,404.85 Z" fill="#111" stroke="#111" stroke-width="0.4" stroke-linejoin="round"/>
<path d="M46.8,403.5 L52.3,402.15 L52.3,404.85 Z" fill="#111" stroke="#111" stroke-width="0.4" stroke-linejoin="round"/>
<path d="M509.3,403.5 L503.3,402.2 L503.3,404.8 Z" fill="#111" stroke="#111" stroke-width="0.4" stroke-linejoin="round"/>
<line x1="28.4" y1="428.5" x2="527.3" y2="428.5" stroke="#111" stroke-width="1.1"/>
<path d="M28.6,428.5 L35.1,427 L35.1,430 Z" fill="#111" stroke="#111" stroke-width="0.4" stroke-linejoin="round"/>
<path d="M527.1,428.5 L520.6,427 L520.6,430 Z" fill="#111" stroke="#111" stroke-width="0.4" stroke-linejoin="round"/>
<text transform="translate(1.64,399.8) scale(0.86,1)" x="0" y="0" font-size="12.5" letter-spacing="0.910" fill="#111" stroke="#111" stroke-width="0.42">6.35</text>
<text x="265.85" y="399.8" font-size="14" textLength="28.51" lengthAdjust="spacingAndGlyphs" fill="#111" stroke="#111" stroke-width="0.42">165.1</text>
<text x="264.93" y="423.2" font-size="14" textLength="28.95" lengthAdjust="spacingAndGlyphs" fill="#111" stroke="#111" stroke-width="0.42">177.8</text>
<path d="M513.5,363.5 L541.5,400.5 L588.5,400.5" fill="none" stroke="#111" stroke-width="1.1" stroke-linejoin="round"/>
<path d="M512.2,362.2 L518.6,367.3 L516.4,368.9 Z" fill="#111"/>
<text transform="translate(542.64,396) scale(0.86,1)" x="0" y="0" font-size="12.5" letter-spacing="1.494" fill="#111" stroke="#111" stroke-width="0.42">4-</text>
<path d="M557.3,388.4 C556.2,391.2 556.9,395.4 559.6,395.4 C562.6,395.4 564.2,391.6 563.4,389.4 C563.1,388.6 562.7,388.2 562.3,388.0" fill="none" stroke="#111" stroke-width="1.3" stroke-linejoin="round" />
<line x1="561.6" y1="385.4" x2="558.3" y2="397.5" stroke="#111" stroke-width="1.3"/>
<text transform="translate(565.77,396) scale(0.86,1)" x="0" y="0" font-size="12.5" letter-spacing="0.838" fill="#111" stroke="#111" stroke-width="0.42">3.96</text>
<line x1="28.3" y1="595.5" x2="527.3" y2="595.5" stroke="#111" stroke-width="1.3"/>
<line x1="28.3" y1="599.5" x2="527.3" y2="599.5" stroke="#111" stroke-width="1.3"/>
<line x1="527.5" y1="590.3" x2="527.5" y2="599.8" stroke="#111" stroke-width="1.3"/>
<path d="M80.5,600.5 L80.5,607.5 L83.5,607.5 L83.5,600.5" fill="none" stroke="#111" stroke-width="1.1" stroke-linejoin="round"/>
<path d="M94.5,600.5 L94.5,607.5 L96.5,607.5 L96.5,600.5" fill="none" stroke="#111" stroke-width="1.1" stroke-linejoin="round"/>
<path d="M108.5,600.5 L108.5,607.5 L111.5,607.5 L111.5,600.5" fill="none" stroke="#111" stroke-width="1.1" stroke-linejoin="round"/>
<path d="M122.5,600.5 L122.5,607.5 L125.5,607.5 L125.5,600.5" fill="none" stroke="#111" stroke-width="1.1" stroke-linejoin="round"/>
<path d="M136.5,600.5 L136.5,607.5 L139.5,607.5 L139.5,600.5" fill="none" stroke="#111" stroke-width="1.1" stroke-linejoin="round"/>
<path d="M150.5,600.5 L150.5,607.5 L153.5,607.5 L153.5,600.5" fill="none" stroke="#111" stroke-width="1.1" stroke-linejoin="round"/>
<path d="M80.5,591.5 L69.5,591.5 L69.5,493.5 L165.5,493.5 L165.5,525.5" fill="none" stroke="#111" stroke-width="1.3" stroke-linejoin="round"/>
<line x1="69.3" y1="542.5" x2="80.7" y2="542.5" stroke="#111" stroke-width="1.2"/>
<defs><clipPath id="hc1"><rect x="82.7" y="508.7" width="70" height="86"/></clipPath><clipPath id="hc2"><rect x="271.3" y="497" width="17.4" height="71.8"/></clipPath><clipPath id="hc3"><rect x="320.8" y="497" width="17.5" height="71.8"/></clipPath></defs>
<g clip-path="url(#hc1)">
<line x1="-34.1" y1="595" x2="55.9" y2="505" stroke="#111" stroke-width="1.1"/>
<line x1="-19.5" y1="595" x2="70.5" y2="505" stroke="#111" stroke-width="1.1"/>
<line x1="-4.9" y1="595" x2="85.1" y2="505" stroke="#111" stroke-width="1.1"/>
<line x1="9.7" y1="595" x2="99.7" y2="505" stroke="#111" stroke-width="1.1"/>
<line x1="24.3" y1="595" x2="114.3" y2="505" stroke="#111" stroke-width="1.1"/>
<line x1="38.9" y1="595" x2="128.9" y2="505" stroke="#111" stroke-width="1.1"/>
<line x1="53.5" y1="595" x2="143.5" y2="505" stroke="#111" stroke-width="1.1"/>
<line x1="68.1" y1="595" x2="158.1" y2="505" stroke="#111" stroke-width="1.1"/>
<line x1="82.7" y1="595" x2="172.7" y2="505" stroke="#111" stroke-width="1.1"/>
<line x1="97.3" y1="595" x2="187.3" y2="505" stroke="#111" stroke-width="1.1"/>
<line x1="111.9" y1="595" x2="201.9" y2="505" stroke="#111" stroke-width="1.1"/>
<line x1="126.5" y1="595" x2="216.5" y2="505" stroke="#111" stroke-width="1.1"/>
<line x1="141.1" y1="595" x2="231.1" y2="505" stroke="#111" stroke-width="1.1"/>
<line x1="155.7" y1="595" x2="245.7" y2="505" stroke="#111" stroke-width="1.1"/>
<line x1="170.3" y1="595" x2="260.3" y2="505" stroke="#111" stroke-width="1.1"/>
<line x1="184.9" y1="595" x2="274.9" y2="505" stroke="#111" stroke-width="1.1"/>
<line x1="199.5" y1="595" x2="289.5" y2="505" stroke="#111" stroke-width="1.1"/>
<line x1="214.1" y1="595" x2="304.1" y2="505" stroke="#111" stroke-width="1.1"/>
<line x1="228.7" y1="595" x2="318.7" y2="505" stroke="#111" stroke-width="1.1"/>
<line x1="243.3" y1="595" x2="333.3" y2="505" stroke="#111" stroke-width="1.1"/>
</g>
<rect x="80.5" y="508.5" width="74" height="87" rx="0" fill="none" stroke="#111" stroke-width="1.3"/>
<line x1="82.5" y1="508.7" x2="82.5" y2="595" stroke="#111" stroke-width="1.1"/>
<line x1="152.5" y1="508.7" x2="152.5" y2="525.4" stroke="#111" stroke-width="1.1"/>
<rect x="85.5" y="504.5" width="64" height="4" rx="0" fill="none" stroke="#111" stroke-width="1.1"/>
<line x1="110.5" y1="504.1" x2="110.5" y2="508.7" stroke="#111" stroke-width="1.1"/>
<line x1="123.5" y1="504.1" x2="123.5" y2="508.7" stroke="#111" stroke-width="1.1"/>
<rect x="83.5" y="567.5" width="34" height="28" rx="0" fill="#fff" stroke="#111" stroke-width="1.2"/>
<line x1="83.7" y1="584.5" x2="117.6" y2="584.5" stroke="#111" stroke-width="1.1"/>
<line x1="83.7" y1="586.5" x2="117.6" y2="586.5" stroke="#111" stroke-width="1.1"/>
<rect x="89.5" y="565.5" width="2" height="19" rx="0" fill="#fff" stroke="#111" stroke-width="1.0"/>
<rect x="111.5" y="565.5" width="2" height="19" rx="0" fill="#fff" stroke="#111" stroke-width="1.0"/>
<rect x="117.5" y="571.5" width="5" height="24" rx="0" fill="#fff" stroke="#111" stroke-width="1.0"/>
<line x1="117.6" y1="577.5" x2="122.2" y2="577.5" stroke="#111" stroke-width="1.0"/>
<rect x="122.5" y="525.5" width="70" height="70" rx="0" fill="#fff" stroke="#111" stroke-width="1.3"/>
<path d="M224.5,595.5 L224.5,488.5 L262.5,488.5 L262.5,595.5" fill="none" stroke="#111" stroke-width="1.3" stroke-linejoin="round"/>
<path d="M349.5,595.5 L349.5,488.5 L387.5,488.5 L387.5,595.5" fill="none" stroke="#111" stroke-width="1.3" stroke-linejoin="round"/>
<line x1="288.8" y1="477.5" x2="320.8" y2="477.5" stroke="#111" stroke-width="1.2"/>
<line x1="323.2" y1="477.5" x2="558.8" y2="477.5" stroke="#111" stroke-width="1.2"/>
<line x1="320.5" y1="477.5" x2="320.5" y2="593.6" stroke="#111" stroke-width="1.5"/>
<line x1="288.5" y1="497" x2="288.5" y2="593.6" stroke="#111" stroke-width="1.5"/>
<line x1="288.6" y1="593.5" x2="320.8" y2="593.5" stroke="#111" stroke-width="1.2"/>
<line x1="287.5" y1="583" x2="287.5" y2="595.6" stroke="#111" stroke-width="1.1"/>
<line x1="321.5" y1="583" x2="321.5" y2="595.6" stroke="#111" stroke-width="1.1"/>
<path d="M288.5,484.5 L275.5,484.5 L268.5,492.5 L268.5,497.5 L288.5,497.5" fill="none" stroke="#111" stroke-width="1.2" stroke-linejoin="round"/>
<line x1="285.5" y1="484.4" x2="285.5" y2="492.8" stroke="#111" stroke-width="1.1"/>
<line x1="268.7" y1="492.5" x2="285.6" y2="492.5" stroke="#111" stroke-width="1.6"/>
<path d="M320.5,484.5 L334.5,484.5 L340.5,492.5 L340.5,497.5 L320.5,497.5" fill="none" stroke="#111" stroke-width="1.2" stroke-linejoin="round"/>
<line x1="323.5" y1="484.4" x2="323.5" y2="492.8" stroke="#111" stroke-width="1.1"/>
<line x1="323.4" y1="492.5" x2="340.5" y2="492.5" stroke="#111" stroke-width="1.6"/>
<line x1="338.5" y1="497" x2="338.5" y2="569" stroke="#111" stroke-width="1.3"/>
<rect x="265.5" y="569.5" width="23" height="14" rx="0" fill="none" stroke="#111" stroke-width="1.2"/>
<path d="M282.5,583.5 L282.5,595.5" fill="none" stroke="#111" stroke-width="1.1" stroke-linejoin="round"/>
<path d="M271.5,583.5 L271.5,595.5" fill="none" stroke="#111" stroke-width="1.0" stroke-linejoin="round"/>
<path d="M274.5,583.5 L274.5,595.5" fill="none" stroke="#111" stroke-width="1.0" stroke-linejoin="round"/>
<path d="M271.5,600.5 L271.5,607.5 L274.5,607.5 L274.5,600.5" fill="none" stroke="#111" stroke-width="1.0" stroke-linejoin="round"/>
<rect x="321.5" y="569.5" width="22" height="14" rx="0" fill="none" stroke="#111" stroke-width="1.2"/>
<path d="M327.5,583.5 L327.5,595.5" fill="none" stroke="#111" stroke-width="1.1" stroke-linejoin="round"/>
<path d="M335.5,583.5 L335.5,595.5" fill="none" stroke="#111" stroke-width="1.0" stroke-linejoin="round"/>
<path d="M337.5,583.5 L337.5,595.5" fill="none" stroke="#111" stroke-width="1.0" stroke-linejoin="round"/>
<path d="M335.5,600.5 L335.5,607.5 L337.5,607.5 L337.5,600.5" fill="none" stroke="#111" stroke-width="1.0" stroke-linejoin="round"/>
<g clip-path="url(#hc2)">
<line x1="271.3" y1="585.2" x2="289.3" y2="567.2" stroke="#111" stroke-width="1.1"/>
<line x1="271.3" y1="577" x2="289.3" y2="559" stroke="#111" stroke-width="1.1"/>
<line x1="271.3" y1="568.8" x2="289.3" y2="550.8" stroke="#111" stroke-width="1.1"/>
<line x1="271.3" y1="560.6" x2="289.3" y2="542.6" stroke="#111" stroke-width="1.1"/>
<line x1="271.3" y1="552.4" x2="289.3" y2="534.4" stroke="#111" stroke-width="1.1"/>
<line x1="271.3" y1="544.2" x2="289.3" y2="526.2" stroke="#111" stroke-width="1.1"/>
<line x1="271.3" y1="536" x2="289.3" y2="518" stroke="#111" stroke-width="1.1"/>
<line x1="271.3" y1="527.8" x2="289.3" y2="509.8" stroke="#111" stroke-width="1.1"/>
<line x1="271.3" y1="519.6" x2="289.3" y2="501.6" stroke="#111" stroke-width="1.1"/>
<line x1="271.3" y1="511.4" x2="289.3" y2="493.4" stroke="#111" stroke-width="1.1"/>
<line x1="271.3" y1="503.2" x2="289.3" y2="485.2" stroke="#111" stroke-width="1.1"/>
<line x1="271.3" y1="495" x2="289.3" y2="477" stroke="#111" stroke-width="1.1"/>
<line x1="271.3" y1="486.8" x2="289.3" y2="468.8" stroke="#111" stroke-width="1.1"/>
<line x1="271.3" y1="478.6" x2="289.3" y2="460.6" stroke="#111" stroke-width="1.1"/>
</g>
<g clip-path="url(#hc3)">
<line x1="320.8" y1="585.2" x2="338.8" y2="567.2" stroke="#111" stroke-width="1.1"/>
<line x1="320.8" y1="577" x2="338.8" y2="559" stroke="#111" stroke-width="1.1"/>
<line x1="320.8" y1="568.8" x2="338.8" y2="550.8" stroke="#111" stroke-width="1.1"/>
<line x1="320.8" y1="560.6" x2="338.8" y2="542.6" stroke="#111" stroke-width="1.1"/>
<line x1="320.8" y1="552.4" x2="338.8" y2="534.4" stroke="#111" stroke-width="1.1"/>
<line x1="320.8" y1="544.2" x2="338.8" y2="526.2" stroke="#111" stroke-width="1.1"/>
<line x1="320.8" y1="536" x2="338.8" y2="518" stroke="#111" stroke-width="1.1"/>
<line x1="320.8" y1="527.8" x2="338.8" y2="509.8" stroke="#111" stroke-width="1.1"/>
<line x1="320.8" y1="519.6" x2="338.8" y2="501.6" stroke="#111" stroke-width="1.1"/>
<line x1="320.8" y1="511.4" x2="338.8" y2="493.4" stroke="#111" stroke-width="1.1"/>
<line x1="320.8" y1="503.2" x2="338.8" y2="485.2" stroke="#111" stroke-width="1.1"/>
<line x1="320.8" y1="495" x2="338.8" y2="477" stroke="#111" stroke-width="1.1"/>
<line x1="320.8" y1="486.8" x2="338.8" y2="468.8" stroke="#111" stroke-width="1.1"/>
<line x1="320.8" y1="478.6" x2="338.8" y2="460.6" stroke="#111" stroke-width="1.1"/>
</g>
<path d="M398.5,595.5 L398.5,539.5 L435.5,539.5 L435.5,595.5" fill="none" stroke="#111" stroke-width="1.3" stroke-linejoin="round"/>
<path d="M439.5,595.5 L439.5,539.5 L475.5,539.5 L475.5,595.5" fill="none" stroke="#111" stroke-width="1.3" stroke-linejoin="round"/>
<path d="M502.5,595.5 L502.5,556.5 L507.5,556.5 L507.5,590.5 L527.5,590.5" fill="none" stroke="#111" stroke-width="1.3" stroke-linejoin="round"/>
<path d="M514.5,590.5 L514.5,561.5 L517.5,561.5 L517.5,590.5" fill="none" stroke="#111" stroke-width="1.1" stroke-linejoin="round"/>
<path d="M514.5,600.5 L514.5,607.5 L517.5,607.5 L517.5,600.5" fill="none" stroke="#111" stroke-width="1.1" stroke-linejoin="round"/>
<line x1="530.2" y1="599.5" x2="558.9" y2="599.5" stroke="#111" stroke-width="1.1"/>
<line x1="522" y1="606.5" x2="558.9" y2="606.5" stroke="#111" stroke-width="1.1"/>
<line x1="555.5" y1="477.5" x2="555.5" y2="599.8" stroke="#111" stroke-width="1.1"/>
<path d="M555.5,477.8 L554,484.3 L557,484.3 Z" fill="#111" stroke="#111" stroke-width="0.4" stroke-linejoin="round"/>
<path d="M555.5,599.5 L554,593 L557,593 Z" fill="#111" stroke="#111" stroke-width="0.4" stroke-linejoin="round"/>
<g transform="translate(552.7,547.1) rotate(-90)"><text x="-0.26" y="0" font-size="14" textLength="13.3" lengthAdjust="spacingAndGlyphs" fill="#111" stroke="#111" stroke-width="0.42">40</text></g>
<line x1="555.5" y1="606.4" x2="555.5" y2="644" stroke="#111" stroke-width="1.1"/>
<path d="M555.5,606.7 L554,613.2 L557,613.2 Z" fill="#111" stroke="#111" stroke-width="0.4" stroke-linejoin="round"/>
<g transform="translate(551,643.5) rotate(-90)"><text x="-0.47" y="0" font-size="12.5" textLength="35.42" lengthAdjust="spacingAndGlyphs" fill="#111" stroke="#111" stroke-width="0.42">3 max.</text></g>
<text transform="translate(611.96,285.1) scale(0.86,1)" x="0" y="0" font-size="15.8" letter-spacing="0.293" fill="#111" stroke="#111" stroke-width="0.42">AC Input Connector (CN1) : JST B3P-VH or equivalent</text>
<rect x="612.5" y="291.5" width="368" height="80" rx="0" fill="none" stroke="#222" stroke-width="1.6"/>
<line x1="612.2" y1="311.5" x2="980" y2="311.5" stroke="#222" stroke-width="1.6"/>
<line x1="668.5" y1="291.5" x2="668.5" y2="371.5" stroke="#222" stroke-width="1.6"/>
<line x1="753.5" y1="291.5" x2="753.5" y2="371.5" stroke="#222" stroke-width="1.6"/>
<line x1="866.5" y1="291.5" x2="866.5" y2="371.5" stroke="#222" stroke-width="1.6"/>
<line x1="612.2" y1="331.5" x2="753.6" y2="331.5" stroke="#222" stroke-width="1.6"/>
<line x1="612.2" y1="351.5" x2="753.6" y2="351.5" stroke="#222" stroke-width="1.6"/>
<text transform="translate(620.28,306) scale(0.86,1)" x="0" y="0" font-size="13.6" letter-spacing="0.468" fill="#111" stroke="#111" stroke-width="0.42">Pin No.</text>
<text transform="translate(679.06,306) scale(0.86,1)" x="0" y="0" font-size="13.6" letter-spacing="0.592" fill="#111" stroke="#111" stroke-width="0.42">Assignment</text>
<text transform="translate(766.85,306) scale(0.86,1)" x="0" y="0" font-size="13.6" letter-spacing="0.627" fill="#111" stroke="#111" stroke-width="0.42">Mating Housing</text>
<text transform="translate(901.74,306) scale(0.86,1)" x="0" y="0" font-size="13.6" letter-spacing="0.510" fill="#111" stroke="#111" stroke-width="0.42">Terminal</text>
<text x="637.06" y="325.9" font-size="13.6" textLength="6.73" lengthAdjust="spacingAndGlyphs" fill="#111" stroke="#111" stroke-width="0.42">1</text>
<text transform="translate(698.51,325.9) scale(0.86,1)" x="0" y="0" font-size="13.6" letter-spacing="0.449" fill="#111" stroke="#111" stroke-width="0.42">AC/L</text>
<text x="637.22" y="345.9" font-size="13.6" textLength="6.73" lengthAdjust="spacingAndGlyphs" fill="#111" stroke="#111" stroke-width="0.42">2</text>
<text transform="translate(693.1,345.9) scale(0.86,1)" x="0" y="0" font-size="13.6" letter-spacing="0.532" fill="#111" stroke="#111" stroke-width="0.42">No Pin</text>
<text x="637.28" y="365.9" font-size="13.6" textLength="6.73" lengthAdjust="spacingAndGlyphs" fill="#111" stroke="#111" stroke-width="0.42">3</text>
<text transform="translate(697.36,365.9) scale(0.86,1)" x="0" y="0" font-size="13.6" letter-spacing="0.807" fill="#111" stroke="#111" stroke-width="0.42">AC/N</text>
<text transform="translate(786.13,335.6) scale(0.86,1)" x="0" y="0" font-size="13.6" letter-spacing="0.346" fill="#111" stroke="#111" stroke-width="0.42">JST VHR</text>
<text transform="translate(772.13,350.1) scale(0.86,1)" x="0" y="0" font-size="13.6" letter-spacing="0.539" fill="#111" stroke="#111" stroke-width="0.42">or equivalent</text>
<text transform="translate(871.63,335.6) scale(0.86,1)" x="0" y="0" font-size="13.6" letter-spacing="0.456" fill="#111" stroke="#111" stroke-width="0.42">JST SVH-21T-P1.1</text>
<text transform="translate(885.43,350.1) scale(0.86,1)" x="0" y="0" font-size="13.6" letter-spacing="0.539" fill="#111" stroke="#111" stroke-width="0.42">or equivalent</text>
<text transform="translate(610.88,395.7) scale(0.86,1)" x="0" y="0" font-size="15.8" letter-spacing="0.327" fill="#111" stroke="#111" stroke-width="0.42">DC Output Connector (CN2) : JST B5P-VH or equivalent</text>
<rect x="612.5" y="402.5" width="368" height="79" rx="0" fill="none" stroke="#222" stroke-width="1.6"/>
<line x1="612.2" y1="422.5" x2="980" y2="422.5" stroke="#222" stroke-width="1.6"/>
<line x1="668.5" y1="402.5" x2="668.5" y2="481.5" stroke="#222" stroke-width="1.6"/>
<line x1="753.5" y1="402.5" x2="753.5" y2="481.5" stroke="#222" stroke-width="1.6"/>
<line x1="866.5" y1="402.5" x2="866.5" y2="481.5" stroke="#222" stroke-width="1.6"/>
<line x1="612.2" y1="442.5" x2="753.6" y2="442.5" stroke="#222" stroke-width="1.6"/>
<line x1="612.2" y1="462.5" x2="753.6" y2="462.5" stroke="#222" stroke-width="1.6"/>
<text transform="translate(620.28,417) scale(0.86,1)" x="0" y="0" font-size="13.6" letter-spacing="0.468" fill="#111" stroke="#111" stroke-width="0.42">Pin No.</text>
<text transform="translate(679.06,417) scale(0.86,1)" x="0" y="0" font-size="13.6" letter-spacing="0.592" fill="#111" stroke="#111" stroke-width="0.42">Assignment</text>
<text transform="translate(766.85,417) scale(0.86,1)" x="0" y="0" font-size="13.6" letter-spacing="0.627" fill="#111" stroke="#111" stroke-width="0.42">Mating Housing</text>
<text transform="translate(901.74,417) scale(0.86,1)" x="0" y="0" font-size="13.6" letter-spacing="0.510" fill="#111" stroke="#111" stroke-width="0.42">Terminal</text>
<text transform="translate(626,436.9) scale(0.86,1)" x="0" y="0" font-size="13.6" letter-spacing="0.815" fill="#111" stroke="#111" stroke-width="0.42">1,2,3</text>
<text transform="translate(704.56,436.9) scale(0.86,1)" x="0" y="0" font-size="13.6" letter-spacing="1.077" fill="#111" stroke="#111" stroke-width="0.42">V2</text>
<text x="637.28" y="456.9" font-size="13.6" textLength="6.73" lengthAdjust="spacingAndGlyphs" fill="#111" stroke="#111" stroke-width="0.42">4</text>
<text transform="translate(704.76,456.9) scale(0.86,1)" x="0" y="0" font-size="13.6" letter-spacing="0.556" fill="#111" stroke="#111" stroke-width="0.42">V3</text>
<text x="637.24" y="476.4" font-size="13.6" textLength="6.73" lengthAdjust="spacingAndGlyphs" fill="#111" stroke="#111" stroke-width="0.42">5</text>
<text transform="translate(704.67,476.4) scale(0.86,1)" x="0" y="0" font-size="13.6" letter-spacing="0.563" fill="#111" stroke="#111" stroke-width="0.42">V4</text>
<text transform="translate(786.13,446.2) scale(0.86,1)" x="0" y="0" font-size="13.6" letter-spacing="0.346" fill="#111" stroke="#111" stroke-width="0.42">JST VHR</text>
<text transform="translate(772.13,460.5) scale(0.86,1)" x="0" y="0" font-size="13.6" letter-spacing="0.539" fill="#111" stroke="#111" stroke-width="0.42">or equivalent</text>
<text transform="translate(871.63,446.2) scale(0.86,1)" x="0" y="0" font-size="13.6" letter-spacing="0.456" fill="#111" stroke="#111" stroke-width="0.42">JST SVH-21T-P1.1</text>
<text transform="translate(885.43,460.5) scale(0.86,1)" x="0" y="0" font-size="13.6" letter-spacing="0.539" fill="#111" stroke="#111" stroke-width="0.42">or equivalent</text>
<text transform="translate(610.88,506.4) scale(0.86,1)" x="0" y="0" font-size="15.8" letter-spacing="0.321" fill="#111" stroke="#111" stroke-width="0.42">DC Output Connector (CN3) : JST B8P-VH or equivalent</text>
<rect x="612.5" y="512.5" width="368" height="60" rx="0" fill="none" stroke="#222" stroke-width="1.6"/>
<line x1="612.2" y1="532.5" x2="980" y2="532.5" stroke="#222" stroke-width="1.6"/>
<line x1="668.5" y1="512.5" x2="668.5" y2="572.5" stroke="#222" stroke-width="1.6"/>
<line x1="753.5" y1="512.5" x2="753.5" y2="572.5" stroke="#222" stroke-width="1.6"/>
<line x1="866.5" y1="512.5" x2="866.5" y2="572.5" stroke="#222" stroke-width="1.6"/>
<line x1="612.2" y1="552.5" x2="753.6" y2="552.5" stroke="#222" stroke-width="1.6"/>
<text transform="translate(620.28,527) scale(0.86,1)" x="0" y="0" font-size="13.6" letter-spacing="0.468" fill="#111" stroke="#111" stroke-width="0.42">Pin No.</text>
<text transform="translate(679.06,527) scale(0.86,1)" x="0" y="0" font-size="13.6" letter-spacing="0.592" fill="#111" stroke="#111" stroke-width="0.42">Assignment</text>
<text transform="translate(766.85,527) scale(0.86,1)" x="0" y="0" font-size="13.6" letter-spacing="0.627" fill="#111" stroke="#111" stroke-width="0.42">Mating Housing</text>
<text transform="translate(901.74,527) scale(0.86,1)" x="0" y="0" font-size="13.6" letter-spacing="0.510" fill="#111" stroke="#111" stroke-width="0.42">Terminal</text>
<text transform="translate(629.65,546.9) scale(0.86,1)" x="0" y="0" font-size="13.6" letter-spacing="0.986" fill="#111" stroke="#111" stroke-width="0.42">1~3</text>
<text transform="translate(704.78,546.9) scale(0.86,1)" x="0" y="0" font-size="13.6" letter-spacing="0.555" fill="#111" stroke="#111" stroke-width="0.42">V1</text>
<text transform="translate(630.46,566.9) scale(0.86,1)" x="0" y="0" font-size="13.6" letter-spacing="0.387" fill="#111" stroke="#111" stroke-width="0.42">4~8</text>
<text transform="translate(697.99,566.9) scale(0.86,1)" x="0" y="0" font-size="13.6" letter-spacing="0.522" fill="#111" stroke="#111" stroke-width="0.42">COM</text>
<text transform="translate(786.13,548.6) scale(0.86,1)" x="0" y="0" font-size="13.6" letter-spacing="0.346" fill="#111" stroke="#111" stroke-width="0.42">JST VHR</text>
<text transform="translate(772.13,562.8) scale(0.86,1)" x="0" y="0" font-size="13.6" letter-spacing="0.539" fill="#111" stroke="#111" stroke-width="0.42">or equivalent</text>
<text transform="translate(871.63,548.6) scale(0.86,1)" x="0" y="0" font-size="13.6" letter-spacing="0.456" fill="#111" stroke="#111" stroke-width="0.42">JST SVH-21T-P1.1</text>
<text transform="translate(885.43,562.8) scale(0.86,1)" x="0" y="0" font-size="13.6" letter-spacing="0.539" fill="#111" stroke="#111" stroke-width="0.42">or equivalent</text>
<path d="M628.9,578.6 C628.0,578.6 627.6,579.3 627.0,580.3 L617.9,597.2 C617.2,598.6 617.7,600.2 619.4,600.2 L639.0,600.2 C640.7,600.2 641.2,598.6 640.5,597.2 L630.8,580.3 C630.2,579.3 629.8,578.6 628.9,578.6 Z" fill="none" stroke="#111" stroke-width="1.2" stroke-linejoin="round" />
<path d="M627.2,582.4 L630.0,582.4 L629.7,594.0 L627.5,594.0 Z" fill="#111"/>
<rect x="627.3" y="595.5" width="2.8" height="3.1" fill="#111"/>
<text transform="translate(647.08,595.4) scale(0.93,1)" x="0" y="0" font-size="14.4" letter-spacing="0.047" fill="#111" stroke="#111" stroke-width="0.42">HS1,HS2 can not be shorted</text>
</svg>
</body></html>
